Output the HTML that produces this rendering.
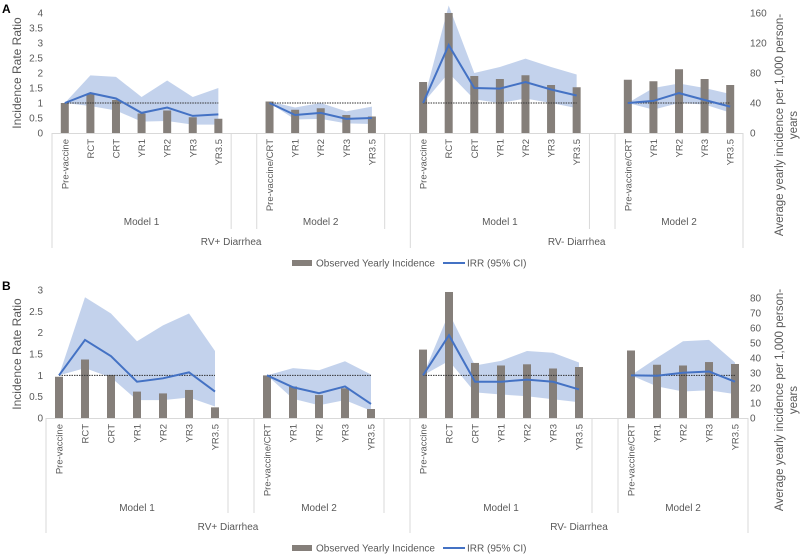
<!DOCTYPE html>
<html><head><meta charset="utf-8"><style>
body{margin:0;background:#fff}
svg{display:block;font-family:"Liberation Sans",sans-serif}
</style></head><body>
<svg id="c" width="800" height="555" viewBox="0 0 800 555"></svg>
<script>
// ---- data ----
const categoriesModel1 = ["Pre-vaccine","RCT","CRT","YR1","YR2","YR3","YR3.5"];
const categoriesModel2 = ["Pre-vaccine/CRT","YR1","YR2","YR3","YR3.5"];
const leftTicksA = ["0","0.5","1","1.5","2","2.5","3","3.5","4"];
const rightTicksA = ["0","40","80","120","160"];
const leftTicksB = ["0","0.5","1","1.5","2","2.5","3"];
const rightTicksB = ["0","10","20","30","40","50","60","70","80"];
// Panel A: bars (per 1,000 person-years), IRR line, CI lower, CI upper
const barsA = [40,52,44,26,30,21,19, 42,31,33,24,22, 68,160,76,72,77,64,61, 71,69,85,72,64];
const irrA  = [1,1.33,1.15,0.67,0.85,0.57,0.62, 1,0.6,0.67,0.47,0.5, 1,2.93,1.5,1.48,1.7,1.45,1.25, 1,1.07,1.33,1.1,0.88];
const lowA  = [1,0.9,0.75,0.38,0.4,0.28,0.28, 1,0.45,0.47,0.32,0.3, 1,2.0,1.12,1.0,1.15,1.0,0.83, 1,0.78,1.0,0.95,0.68];
const upA   = [1,1.92,1.87,1.2,1.75,1.2,1.5, 1.05,0.85,1.0,0.72,0.88, 1,4.25,2.0,2.2,2.48,2.2,1.95, 1,1.5,1.65,1.5,1.3];
// Panel B
const barsB = [27.5,39,28.7,17.6,16.4,18.7,7.1, 28.4,21,15.3,19.8,6, 45.6,84,36.7,35,35.8,33,34, 45,35.5,35,37.3,36];
const irrB  = [1,1.83,1.45,0.85,0.93,1.07,0.62, 1,0.72,0.58,0.74,0.33, 1,1.94,0.85,0.85,0.9,0.85,0.67, 1,0.99,1.06,1.09,0.85];
const lowB  = [1,1.17,0.95,0.42,0.42,0.48,0.27, 1,0.45,0.3,0.42,0.17, 1,1.34,0.6,0.55,0.51,0.44,0.37, 1,0.74,0.62,0.65,0.56];
const upB   = [1,2.83,2.45,1.8,2.17,2.45,1.57, 1,1.17,1.12,1.33,1.02, 1,2.46,1.23,1.34,1.57,1.53,1.3, 1,1.41,1.8,1.83,1.3];

const NS="http://www.w3.org/2000/svg";
const svg=document.getElementById('c');
function mk(tag,attrs,parent,text){const e=document.createElementNS(NS,tag);for(const k in attrs)e.setAttribute(k,attrs[k]);if(text!==undefined)e.textContent=text;(parent||svg).appendChild(e);return e;}

function panel(P){
  const g=mk('g',{});
  
  
  const slot=(P.x1-P.x0)/27;
  const groups=[0,8,14,22];
  const sizes=[7,5,7,5];
  const idx=[];
  groups.forEach((s,gi)=>{for(let i=0;i<sizes[gi];i++)idx.push(s+i);});
  const cx=i=>P.x0+slot*(idx[i]+0.5);
  const yL=v=>P.y0-v/P.lmax*(P.y0-P.ytop);
  const yR=v=>P.y0-v/P.rmax*(P.y0-P.ytop);
  const l=mk('text',{x:2,y:P.ytop,'font-size':12,'font-weight':'bold',fill:'#000'},g,P.id);
  
  P.lt.forEach(t=>{const e=mk('text',{x:43,y:yL(parseFloat(t))+3.5,'font-size':10,fill:'#595959','text-anchor':'end'},g,t);
    });
  P.rt.forEach(t=>{const e=mk('text',{x:750,y:yR(parseFloat(t))+3.5,'font-size':10,fill:'#595959'},g,t);
    });
  const lt=mk('text',{transform:`translate(21,${(P.y0+P.ytop)/2}) rotate(-90)`,'font-size':12,fill:'#595959','text-anchor':'middle'},g,'Incidence Rate Ratio');
  
  const rt=mk('text',{transform:`translate(783,${P.rc}) rotate(-90)`,'font-size':11.5,fill:'#595959','text-anchor':'middle'},g);
  
  mk('tspan',{x:0,y:0},rt,'Average yearly incidence per 1,000 person-');
  mk('tspan',{x:0,y:14},rt,'years');
  // bands first (behind bars)
  let k=0;
  const groupIds=[];
  sizes.forEach((n,gi)=>{
    const ids=[];for(let i=0;i<n;i++)ids.push(k+i);k+=n;groupIds.push(ids);
    let d=ids.map((i,j)=>(j?'L':'M')+cx(i)+','+yL(P.up[i])).join('')+ids.slice().reverse().map(i=>'L'+cx(i)+','+yL(P.low[i])).join('')+'Z';
    const b=mk('path',{d,fill:'#b4c7e7','fill-opacity':0.8},g);
    
  });
  P.bars.forEach((v,i)=>{const r=mk('rect',{x:cx(i)-4,y:yR(v),width:8,height:P.y0-yR(v),fill:'#857f7a'},g);
    });
  groupIds.forEach((ids,gi)=>{
    const n=ids.length;
    const dl=mk('line',{x1:cx(ids[0]),x2:cx(ids[n-1]),y1:yL(1),y2:yL(1),stroke:'#333','stroke-width':1,'stroke-dasharray':'1.5,1'},g);
    
    const ln=mk('polyline',{points:ids.map(i=>cx(i)+','+yL(P.irr[i])).join(' '),fill:'none',stroke:'#4472c4','stroke-width':2},g);
    
  });
  const ax=mk('line',{x1:P.x0,x2:P.x1,y1:P.y0+0.5,y2:P.y0+0.5,stroke:'#d9d9d9'},g);
  
  [[0,true],[7,false],[8,false],[13,false],[14,true],[21,false],[22,false],[27,true]].forEach(([s,outer])=>{
    const x=P.x0+slot*s;
    const e=mk('line',{x1:x,x2:x,y1:P.y0,y2:P.y0+(outer?P.outerLen:P.innerLen),stroke:'#d9d9d9'},g);
    
  });
  const names=[...categoriesModel1,...categoriesModel2,...categoriesModel1,...categoriesModel2];
  names.forEach((t,i)=>{const e=mk('text',{transform:`translate(${cx(i)+3.5},${P.y0+6}) rotate(-90)`,'font-size':9.5,fill:'#595959','text-anchor':'end'},g,t);
    });
  [[0,7,'Model 1'],[8,13,'Model 2'],[14,21,'Model 1'],[22,27,'Model 2']].forEach(([a,b,t])=>{
    const e=mk('text',{x:P.x0+slot*(a+b)/2,y:P.modelY,'font-size':10,fill:'#595959','text-anchor':'middle'},g,t);
    });
  [[0,14,'RV+ Diarrhea'],[14,27,'RV- Diarrhea']].forEach(([a,b,t])=>{
    const e=mk('text',{x:P.x0+slot*(a+b)/2,y:P.rvY,'font-size':10,fill:'#595959','text-anchor':'middle'},g,t);
    });
  const lg=mk('g',{},g);
  const s1=mk('rect',{x:292,y:P.legY-3,width:20,height:6,fill:'#857f7a'},lg);
  
  const t1=mk('text',{x:316,y:P.legY+3.5,'font-size':10,fill:'#595959'},lg,'Observed Yearly Incidence');
  
  const s2=mk('line',{x1:443,x2:465,y1:P.legY,y2:P.legY,stroke:'#4472c4','stroke-width':2},lg);
  
  const t2=mk('text',{x:467,y:P.legY+3.5,'font-size':10,fill:'#595959'},lg,'IRR (95% CI)');
  
}
panel({id:'A',x0:52,x1:743,y0:133,ytop:13,lmax:4,rmax:160,lt:leftTicksA,rt:rightTicksA,rc:125,
  bars:barsA,irr:irrA,low:lowA,up:upA,innerLen:96,outerLen:115,modelY:225,rvY:245,legY:263});
panel({id:'B',x0:46,x1:748,y0:418,ytop:290,lmax:3,rmax:85.33,lt:leftTicksB,rt:rightTicksB,rc:400,
  bars:barsB,irr:irrB,low:lowB,up:upB,innerLen:95,outerLen:115,modelY:511,rvY:530,legY:548});
</script>
</body></html>
